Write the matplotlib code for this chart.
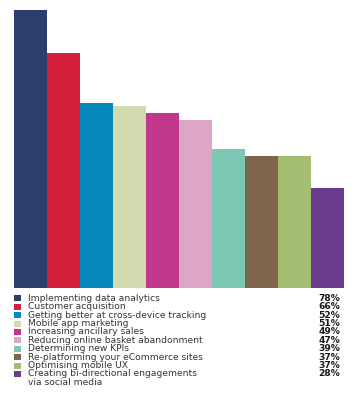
import matplotlib.pyplot as plt
from matplotlib.patches import Rectangle

# dados
labels = [
    "Implementing data analytics",
    "Customer acquisition",
    "Getting better at cross-device tracking",
    "Mobile app marketing",
    "Increasing ancillary sales",
    "Reducing online basket abandonment",
    "Determining new KPIs",
    "Re-platforming your eCommerce sites",
    "Optimising mobile UX",
    "Creating bi-directional engagements\nvia social media",
]
values = [78, 66, 52, 51, 49, 47, 39, 37, 37, 28]
colors = ["#2b3f6e", "#d3203a", "#0889be", "#d2dbb0", "#c1388a",
          "#dda5c8", "#7cc8b4", "#7e654b", "#a3bd71", "#6a3a8f"]

W, H = 360, 393
fig = plt.figure(figsize=(W / 100, H / 100), dpi=100)

# barras
ax = fig.add_axes([14 / W, 105 / H, 330 / W, 278 / H])
x = range(len(values))
ax.bar(x, values, width=1.0, color=colors, edgecolor="none")
ax.set_xlim(-0.5, len(values) - 0.5)
ax.set_ylim(0, 78)
ax.axis("off")

# legenda (eixo em pixels)
lg = fig.add_axes([0, 0, 1, 1])
lg.set_xlim(0, W)
lg.set_ylim(H, 0)
lg.axis("off")
y0, dy = 298.3, 8.4
fs = 6.6
for i, (lab, val, col) in enumerate(zip(labels, values, colors)):
    y = y0 + i * dy
    lg.add_patch(Rectangle((14, y - 3), 7, 6, color=col, lw=0))
    for k, line in enumerate(lab.split("\n")):
        lg.text(28, y + k * dy, line, fontsize=fs, color="#333333", va="center")
    lg.text(340, y, f"{val}%", fontsize=fs, color="#1a1a1a", va="center",
            ha="right", fontweight="bold")

fig.savefig("out.png", dpi=100)
